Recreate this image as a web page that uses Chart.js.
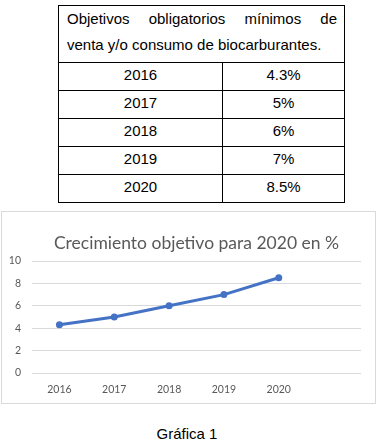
<!DOCTYPE html>
<html>
<head>
<meta charset="utf-8">
<script src="https://cdn.jsdelivr.net/npm/chart.js@4"></script>
<style>
  body { margin: 0; background: #fff; width: 384px; height: 447px; position: relative; overflow: hidden; }
  table { position: absolute; left: 58px; top: 5px; width: 287px; border-collapse: collapse;
          font-family: "Liberation Sans", Arial, sans-serif; font-size: 15px; color: #000; }
  td { border: 1px solid #000; padding: 0 0 3px 0; height: 24px; line-height: 24px; text-align: center; }
  td.head { padding: 0 7px 4px 8px; height: 52px; text-align: left; }
  .just { text-align: justify; text-align-last: justify; line-height: 26px; }
  .last { line-height: 26px; }
  #box { position: absolute; left: 1px; top: 211px; width: 373px; height: 191px; border: 1px solid #d9d9d9; }
  #grafico { position: absolute; left: 1px; top: 1px; }
  #caption { position: absolute; left: 0; width: 374px; top: 425px; text-align: center;
             font-family: "Liberation Sans", Arial, sans-serif; font-size: 15px; color: #000; }
</style>
</head>
<body>
<table id="tabla">
  <tr><td class="head" colspan="2"><div class="just">Objetivos obligatorios mínimos de</div><div class="last">venta y/o consumo de biocarburantes.</div></td></tr>
</table>
<div id="box"><canvas id="grafico" width="372" height="190"></canvas></div>
<div id="caption">Gráfica 1</div>
<script>
// datos
const anios = ['2016', '2017', '2018', '2019', '2020', ''];
const etiquetasTabla = ['4.3%', '5%', '6%', '7%', '8.5%'];
const valores = [4.3, 5, 6, 7, 8.5, null];
const ticksY = [0, 2, 4, 6, 8, 10];

// filas de la tabla
const tabla = document.getElementById('tabla');
etiquetasTabla.forEach(function(txt, i) {
    const tr = document.createElement('tr');
    tr.innerHTML = '<td style="width:163px">' + anios[i] + '</td><td>' + txt + '</td>';
    tabla.appendChild(tr);
});

const azul = '#4472c4';
const gris = '#595959';

new Chart(document.getElementById('grafico'), {
    type: 'line',
    data: {
        labels: anios,
        datasets: [{
            data: valores,
            borderColor: azul,
            backgroundColor: azul,
            borderWidth: 3,
            pointRadius: 3.5,
            pointBorderWidth: 0,
            tension: 0
        }]
    },
    options: {
        responsive: false,
        animation: false,
        layout: { padding: { left: 0, right: 14, top: 0, bottom: 8 } },
        plugins: {
            legend: { display: false },
            tooltip: { enabled: false },
            title: {
                display: true,
                fullSize: false,
                text: 'Crecimiento objetivo para 2020 en %',
                color: gris,
                font: { family: 'Lato', size: 17.5, weight: 'normal' },
                padding: { top: 20, bottom: 7 }
            }
        },
        scales: {
            x: {
                offset: true,
                grid: { display: false, drawTicks: false },
                border: { display: false },
                ticks: { color: gris, font: { family: 'Lato', size: 10.5 }, padding: 10, maxRotation: 0 },
                afterFit: function(s) { s.height = 22; }
            },
            y: {
                min: 0,
                max: 10,
                afterBuildTicks: function(s) { s.ticks = ticksY.map(v => ({ value: v })); },
                grid: { color: '#d9d9d9', drawTicks: false },
                border: { display: false },
                ticks: { color: gris, font: { family: 'Lato', size: 10.5 }, padding: 11 },
                afterFit: function(s) { s.width = 29; }
            }
        }
    }
});
</script>
</body>
</html>
